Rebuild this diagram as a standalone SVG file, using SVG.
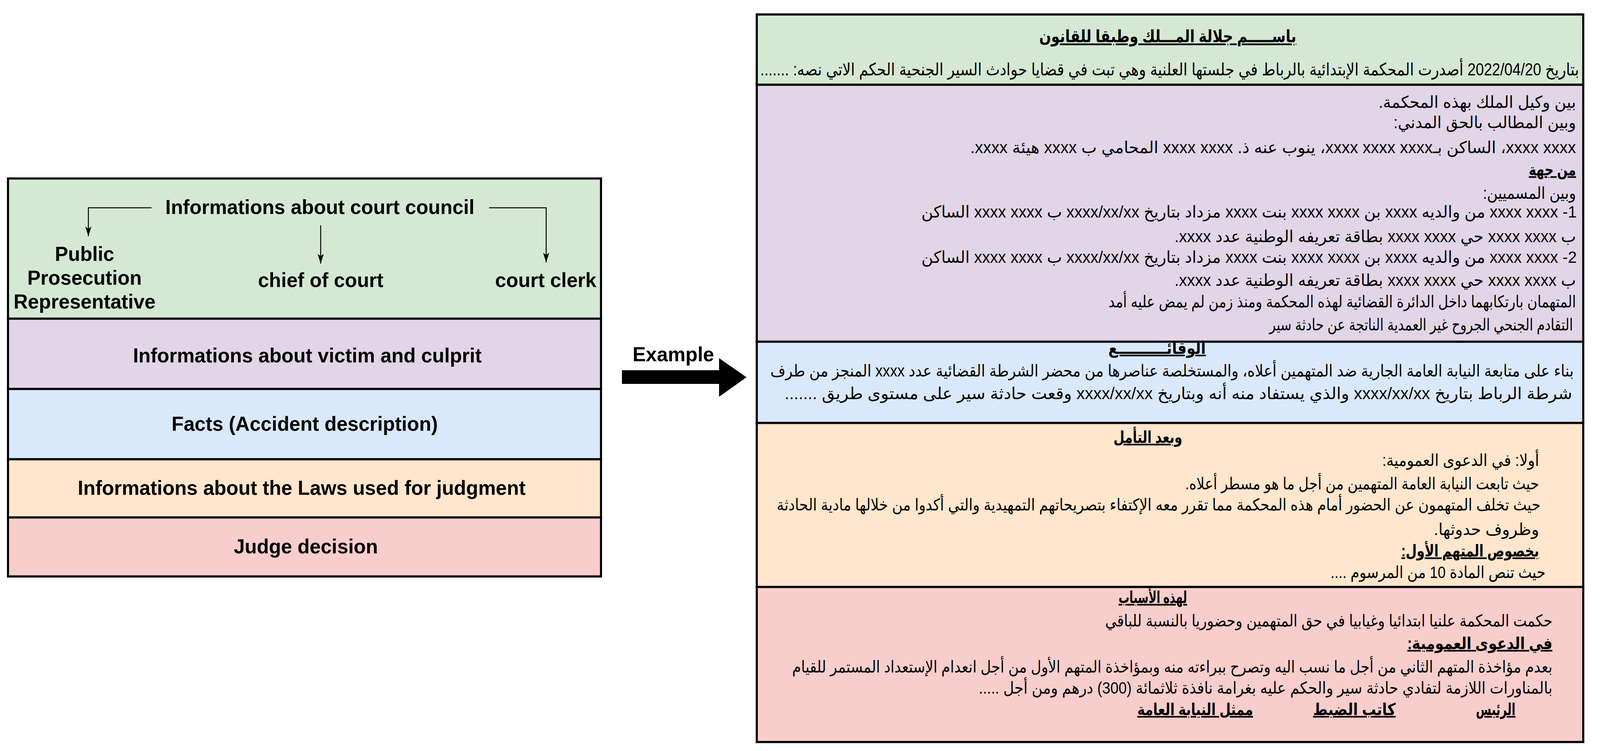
<svg xmlns="http://www.w3.org/2000/svg" width="4201" height="1923" viewBox="0 0 4201 1923">
<defs>
<style>
.box{stroke:#000;stroke-width:5.5}
.g{fill:#d5e8d4}.p{fill:#e1d5e7}.b{fill:#dae8fc}.o{fill:#ffe6cc}.r{fill:#f8cecc}
.en{font-family:'Liberation Sans',Arial,Helvetica,sans-serif;font-weight:bold;font-size:52px;fill:#000;text-anchor:middle}
.ar{font-family:'Liberation Sans','DejaVu Sans',sans-serif;font-size:42px;fill:#000;direction:rtl;text-anchor:middle}
.ra{text-anchor:start}
.big{font-size:44px}
.h{font-weight:bold;text-decoration:underline}
.conn{fill:none;stroke:#000;stroke-width:2.5}
</style>
<marker id="arr" markerUnits="userSpaceOnUse" markerWidth="26" markerHeight="16" refX="25" refY="8" orient="auto"><path d="M0,0 L25,8 L0,16 L6,8 Z" fill="#000"/></marker>
</defs>
<rect width="4201" height="1923" fill="#fff"/>
<g id="canvas" transform="scale(0.975 1)">
<g id="structure">
  <g id="s-council">
    <rect class="box g" x="21" y="457" width="1557" height="359"/>
    <text class="en" x="840" y="548">Informations about court council</text>
  </g>
  <g id="s-prosecution">
    <text class="en" x="222" y="668">Public</text>
    <text class="en" x="222" y="729">Prosecution</text>
    <text class="en" x="222" y="790">Representative</text>
  </g>
  <g id="s-chief"><text class="en" x="842" y="735">chief of court</text></g>
  <g id="s-clerk"><text class="en" x="1433" y="735">court clerk</text></g>
  <g id="s-victim">
    <rect class="box p" x="21" y="816" width="1557" height="180"/>
    <text class="en" x="807" y="928">Informations about victim and culprit</text>
  </g>
  <g id="s-facts">
    <rect class="box b" x="21" y="996" width="1557" height="180"/>
    <text class="en" x="800" y="1103">Facts (Accident description)</text>
  </g>
  <g id="s-laws">
    <rect class="box o" x="21" y="1176" width="1557" height="149"/>
    <text class="en" x="792" y="1267">Informations about the Laws used for judgment</text>
  </g>
  <g id="s-decision">
    <rect class="box r" x="21" y="1325" width="1557" height="151"/>
    <text class="en" x="803" y="1417">Judge decision</text>
  </g>
</g>

<g id="example">
  <g id="e-header">
    <rect class="box g" x="1987" y="37" width="2170" height="180"/>
    <text class="ar h big" x="3066" y="108" transform="matrix(0.836 0 0 1 502.8 0)">باســـــم جلالة المـــلك وطبقا للقانون</text>
    <text class="ar ra big" x="4146" y="193" transform="matrix(0.8795 0 0 1 499.6 0)">بتاريخ 2022/04/20 أصدرت المحكمة الإبتدائية بالرباط في جلستها العلنية وهي تبت في قضايا حوادث السير الجنحية الحكم الاتي نصه: .......</text>
  </g>
  <g id="e-parties">
    <rect class="box p" x="1987" y="217" width="2170" height="658"/>
    <text class="ar ra" x="4138" y="276">بين وكيل الملك بهذه المحكمة.</text>
    <text class="ar ra" x="4138" y="328" transform="matrix(0.978 0 0 1 91 0)">وبين المطالب بالحق المدني:</text>
    <text class="ar ra" x="4138" y="392" transform="matrix(1.0245 0 0 1 -101.4 0)">xxxx xxxx، الساكن بـxxxx xxxx xxxx، ينوب عنه ذ. xxxx xxxx المحامي ب xxxx هيئة xxxx.</text>
    <text class="ar ra h" x="4138" y="449" transform="matrix(0.78 0 0 1 910.4 0)">من جهة</text>
    <text class="ar ra" x="4138" y="509" transform="matrix(0.9125 0 0 1 362.1 0)">وبين المسميين:</text>
    <text class="ar ra" x="4140" y="557">1-  xxxx xxxx من والديه xxxx بن xxxx xxxx بنت xxxx مزداد بتاريخ xxxx/xx/xx ب xxxx xxxx الساكن</text>
    <text class="ar ra" x="4138" y="620">ب xxxx xxxx حي xxxx xxxx بطاقة تعريفه الوطنية عدد xxxx.</text>
    <text class="ar ra" x="4140" y="673">2-  xxxx xxxx من والديه xxxx بن xxxx xxxx بنت xxxx مزداد بتاريخ xxxx/xx/xx ب xxxx xxxx الساكن</text>
    <text class="ar ra" x="4138" y="732">ب xxxx xxxx حي xxxx xxxx بطاقة تعريفه الوطنية عدد xxxx.</text>
    <text class="ar ra" x="4138" y="787" transform="matrix(0.8605 0 0 1 577.3 0)">المتهمان بارتكابهما داخل الدائرة القضائية لهذه المحكمة ومنذ زمن لم يمض عليه أمد</text>
    <text class="ar ra" x="4130" y="846" transform="matrix(0.8209 0 0 1 739.7 0)">التقادم الجنحي الجروح غير العمدية الناتجة عن حادثة سير</text>
  </g>
  <g id="e-facts">
    <rect class="box b" x="1987" y="875" width="2170" height="208"/>
    <text class="ar h" x="3038" y="906" transform="matrix(0.889 0 0 1 337.2 0)">الوقائــــــــــع</text>
    <text class="ar ra" x="4132" y="964" transform="matrix(0.916 0 0 1 347.1 0)">بناء على متابعة النيابة العامة الجارية ضد المتهمين أعلاه، والمستخلصة عناصرها من محضر الشرطة القضائية عدد xxxx المنجز من طرف</text>
    <text class="ar ra" x="4128" y="1022" transform="matrix(1.047 0 0 1 -194 0)">شرطة الرباط بتاريخ xxxx/xx/xx والذي يستفاد منه أنه وبتاريخ xxxx/xx/xx وقعت حادثة سير على مستوى طريق .......</text>
  </g>
  <g id="e-laws">
    <rect class="box o" x="1987" y="1083" width="2170" height="420"/>
    <text class="ar h" x="3014" y="1134" transform="matrix(0.793 0 0 1 623.9 0)">وبعد التأمل</text>
    <text class="ar ra" x="4041" y="1193" transform="matrix(0.928 0 0 1 291 0)">أولا: في الدعوى العمومية:</text>
    <text class="ar ra" x="4041" y="1253" transform="matrix(0.877 0 0 1 497 0)">حيث تابعت النيابة العامة المتهمين من أجل ما هو مسطر أعلاه.</text>
    <text class="ar ra" x="4045" y="1307" transform="matrix(0.9 0 0 1 404.5 0)">حيث تخلف المتهمون عن الحضور أمام هذه المحكمة مما تقرر معه الإكتفاء بتصريحاتهم التمهيدية والتي أكدوا من خلالها مادية الحادثة</text>
    <text class="ar ra" x="4041" y="1370">وظروف حدوثها.</text>
    <text class="ar ra h" x="4041" y="1425" transform="matrix(0.8 0 0 1 808.2 0)">بخصوص المتهم الأول:</text>
    <text class="ar ra" x="4058" y="1480" transform="matrix(0.895 0 0 1 426.1 0)">حيث تنص المادة 10 من المرسوم ....</text>
  </g>
  <g id="e-decision">
    <rect class="box r" x="1987" y="1503" width="2170" height="397"/>
    <text class="ar h" x="3027" y="1544" transform="matrix(0.676 0 0 1 980.7 0)">لهذه الأسباب</text>
    <text class="ar ra" x="4076" y="1604" transform="matrix(0.896 0 0 1 423.9 0)">حكمت المحكمة علنيا ابتدائيا وغيابيا في حق المتهمين وحضوريا بالنسبة للباقي</text>
    <text class="ar ra h" x="4076" y="1662" transform="matrix(0.881 0 0 1 485 0)">في الدعوى العمومية:</text>
    <text class="ar ra" x="4076" y="1722" transform="matrix(0.8967 0 0 1 421.1 0)">بعدم مؤاخذة المتهم الثاني من أجل ما نسب اليه وتصرح ببراءته منه وبمؤاخذة المتهم الأول من أجل انعدام الإستعداد المستمر للقيام</text>
    <text class="ar ra" x="4076" y="1776" transform="matrix(0.92 0 0 1 326.1 0)">بالمناورات اللازمة لتفادي حادثة سير والحكم عليه بغرامة نافذة ثلاثمائة (300) درهم ومن أجل .....</text>
    <text class="ar h" x="3927" y="1831" transform="matrix(0.7 0 0 1 1178.1 0)">الرئيس</text>
    <text class="ar h" x="3556" y="1831" transform="matrix(0.883 0 0 1 416.1 0)">كاتب الضبط</text>
    <text class="ar h" x="3138" y="1831" transform="matrix(0.811 0 0 1 593.1 0)">ممثل النيابة العامة</text>
  </g>
</g>

<g id="connectors">
  <path class="conn" d="M398,532 H232 V605" marker-end="url(#arr)"/>
  <path class="conn" d="M842,577 V675" marker-end="url(#arr)"/>
  <path class="conn" d="M1284,532 H1434 V672" marker-end="url(#arr)"/>
  <polygon points="1633,948 1888,948 1888,917 1960,966 1888,1016 1888,983 1633,983" fill="#000"/>
  <text class="en" x="1768" y="925">Example</text>
</g>
</g>
</svg>
